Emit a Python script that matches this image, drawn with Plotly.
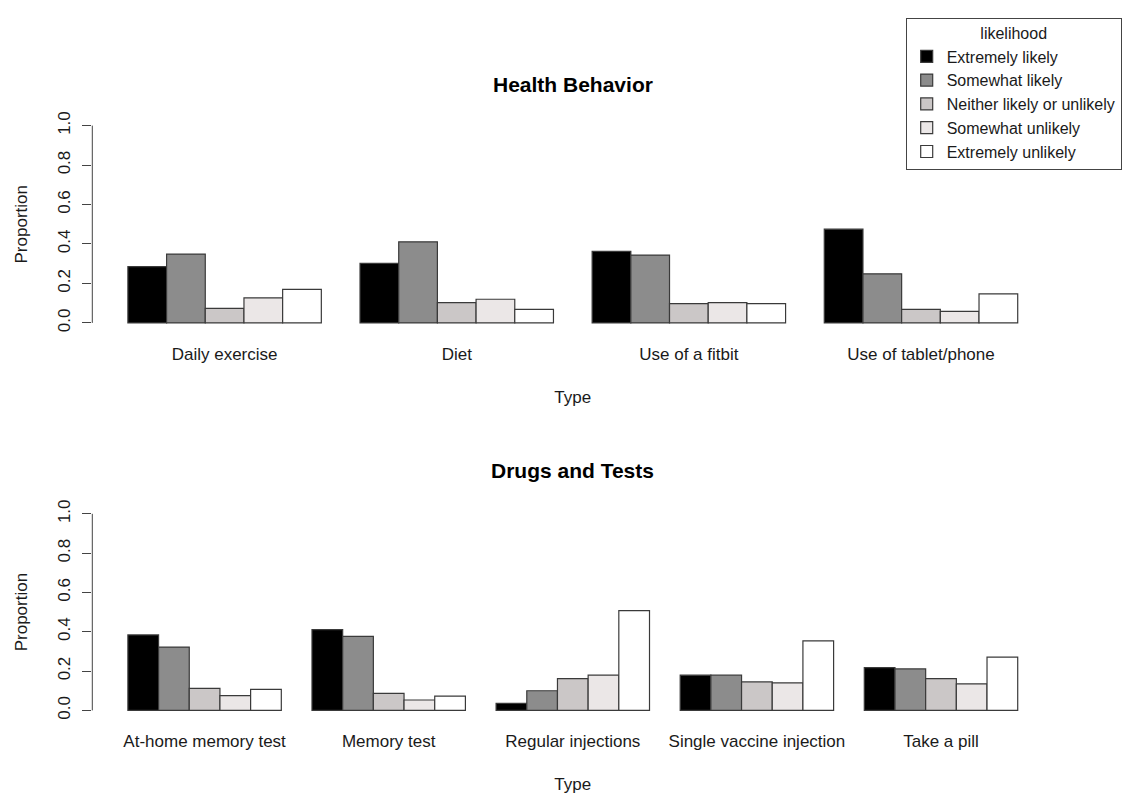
import plotly.graph_objects as go

# ---- data ----
likelihood = ["Extremely likely", "Somewhat likely", "Neither likely or unlikely",
              "Somewhat unlikely", "Extremely unlikely"]

health_types = ["Daily exercise", "Diet", "Use of a fitbit", "Use of tablet/phone"]
health_extremely_likely = [0.285, 0.302, 0.363, 0.475]
health_somewhat_likely = [0.349, 0.411, 0.344, 0.249]
health_neither = [0.074, 0.103, 0.098, 0.069]
health_somewhat_unlikely = [0.127, 0.120, 0.103, 0.059]
health_extremely_unlikely = [0.170, 0.069, 0.098, 0.147]

drug_types = ["At-home memory test", "Memory test", "Regular injections",
              "Single vaccine injection", "Take a pill"]
drug_extremely_likely = [0.384, 0.411, 0.036, 0.179, 0.218]
drug_somewhat_likely = [0.322, 0.377, 0.100, 0.179, 0.211]
drug_neither = [0.112, 0.087, 0.162, 0.145, 0.162]
drug_somewhat_unlikely = [0.075, 0.053, 0.179, 0.140, 0.135]
drug_extremely_unlikely = [0.107, 0.073, 0.508, 0.354, 0.271]

health_series = [health_extremely_likely, health_somewhat_likely, health_neither,
                 health_somewhat_unlikely, health_extremely_unlikely]
drug_series = [drug_extremely_likely, drug_somewhat_likely, drug_neither,
               drug_somewhat_unlikely, drug_extremely_unlikely]

colors = ["#000000", "#8c8c8c", "#cbc7c7", "#ebe7e7", "#ffffff"]
outline = "#3a3a3a"

W, H = 1133, 794
FONT = "Liberation Sans, Arial, sans-serif"
TXT = "#1a1a1a"


def px_x(p):
    return p / W


def px_y(p):
    return 1 - p / H


fig = go.Figure()
for i, name in enumerate(likelihood):
    fig.add_trace(go.Bar(
        x=health_types, y=health_series[i], name=name, legendgroup=name,
        marker=dict(color=colors[i], line=dict(color=outline, width=1.2)),
        xaxis="x", yaxis="y", showlegend=True))
for i, name in enumerate(likelihood):
    fig.add_trace(go.Bar(
        x=drug_types, y=drug_series[i], name=name, legendgroup=name,
        marker=dict(color=colors[i], line=dict(color=outline, width=1.2)),
        xaxis="x2", yaxis="y2", showlegend=False))

x_dom = [px_x(92.3), px_x(1053.3)]
top_dom = [px_y(327.7), px_y(112.7)]
bot_dom = [px_y(718.6), px_y(504.4)]

yax = dict(range=[-0.04, 1.04], tickvals=[0, 0.2, 0.4, 0.6, 0.8, 1.0],
           tickformat=".1f", tickangle=-90, ticks="outside", ticklen=9,
           tickcolor="#444", tickwidth=1, showline=False, showgrid=False,
           zeroline=False, ticklabelstandoff=6,
           tickfont=dict(size=17, color=TXT, family=FONT),
           title=dict(text="Proportion", font=dict(size=17, color=TXT, family=FONT),
                      standoff=22))
xax = dict(showgrid=False, showline=False, zeroline=False, ticks="",
           ticklabelstandoff=11,
           tickfont=dict(size=17, color=TXT, family=FONT),
           title=dict(text="Type", font=dict(size=17, color=TXT, family=FONT),
                      standoff=28))

fig.update_layout(
    width=W, height=H,
    margin=dict(l=0, r=0, t=0, b=0),
    plot_bgcolor="white", paper_bgcolor="white",
    barmode="group", bargap=1 / 6, bargroupgap=0,
    font=dict(family=FONT, color=TXT, size=17),
    xaxis=dict(xax, domain=x_dom, range=[-0.57, 3.57], anchor="y"),
    yaxis=dict(yax, domain=top_dom, anchor="x"),
    xaxis2=dict(xax, domain=x_dom, range=[-0.61, 4.61], anchor="y2"),
    yaxis2=dict(yax, domain=bot_dom, anchor="x2"),
    legend=dict(x=px_x(905.7), y=px_y(11.7), xanchor="left", yanchor="top",
                bordercolor="#444", borderwidth=1, bgcolor="white",
                tracegroupgap=0,
                font=dict(size=16, color=TXT, family=FONT),
                title=dict(text="likelihood", side="top center",
                           font=dict(size=16, color=TXT, family=FONT))),
    shapes=[
        dict(type="line", xref="x domain", yref="y", x0=0, x1=0, y0=0, y1=1,
             line=dict(color="#444", width=1)),
        dict(type="line", xref="x2 domain", yref="y2", x0=0, x1=0, y0=0, y1=1,
             line=dict(color="#444", width=1)),
    ],
    annotations=[
        dict(text="<b>Health Behavior</b>", xref="paper", yref="paper",
             x=sum(x_dom) / 2, y=px_y(79), xanchor="center", yanchor="middle",
             showarrow=False, font=dict(size=21, color="#000", family=FONT)),
        dict(text="<b>Drugs and Tests</b>", xref="paper", yref="paper",
             x=sum(x_dom) / 2, y=px_y(469), xanchor="center", yanchor="middle",
             showarrow=False, font=dict(size=21, color="#000", family=FONT)),
    ],
)

fig.write_html("out.html",
               config={"displayModeBar": False},
               post_script="document.body.style.margin='0';"
                           "document.body.style.overflow='hidden';")
